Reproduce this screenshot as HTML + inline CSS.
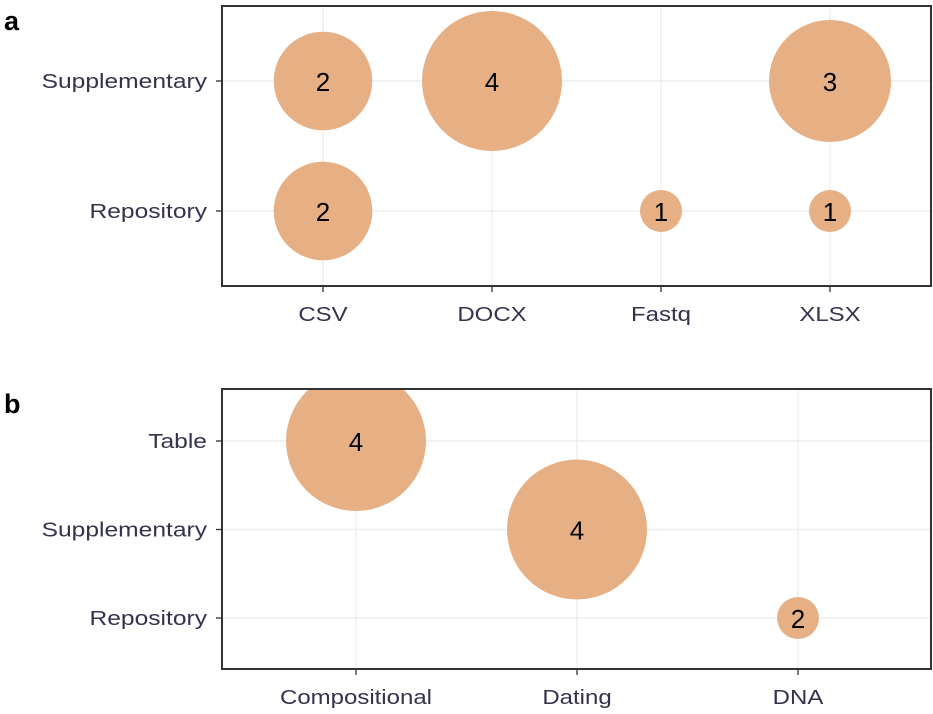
<!DOCTYPE html>
<html><head><meta charset="utf-8"><style>
body{margin:0;background:#fff;}
svg{display:block;font-family:"Liberation Sans",Arial,sans-serif;}
</style></head><body>
<svg id="chart" width="933" height="714"></svg>
<script>
const aCategories = ["CSV","DOCX","Fastq","XLSX"];
const aRows = ["Repository","Supplementary"];
const aX = ["CSV","DOCX","XLSX","CSV","Fastq","XLSX"];
const aY = ["Supplementary","Supplementary","Supplementary","Repository","Repository","Repository"];
const aValues = [2,4,3,2,1,1];
const bCategories = ["Compositional","Dating","DNA"];
const bRows = ["Repository","Supplementary","Table"];
const bX = ["Compositional","Dating","DNA"];
const bY = ["Table","Supplementary","Repository"];
const bValues = [4,4,2];

const NS="http://www.w3.org/2000/svg";
const svg=document.getElementById('chart');
function mk(tag,attrs,parent){const e=document.createElementNS(NS,tag);for(const k in attrs)e.setAttribute(k,attrs[k]);(parent||svg).appendChild(e);return e;}

function panel(p){
  const g=mk('g',{});
  
  
  const L=222,R=931,T=p.top,B=p.bottom;
  const xs=v=>p.x0+p.cats.indexOf(v)*p.dx;
  const ys=v=>p.y0-p.rows.indexOf(v)*p.dy;
  const vmin=Math.min(...p.vals),vmax=Math.max(...p.vals);
  const rmin=21,rmax=70;
  const rs=v=>vmax===vmin?rmax:rmin+(rmax-rmin)*Math.sqrt((v-vmin)/(vmax-vmin));
  const lt=mk('text',{x:4,y:p.top+24,'font-size':27,'font-weight':'bold',fill:'#000'},g);
  lt.textContent=p.letter;
  
  
  const clipId='clip'+p.letter;
  const cp=mk('clipPath',{id:clipId},g);mk('rect',{x:L,y:T,width:R-L,height:B-T},cp);
  p.cats.forEach(c=>{
    const gl=mk('line',{x1:xs(c),x2:xs(c),y1:T,y2:B,stroke:'#ebebeb','stroke-width':1.2},g);
    
    
    const tk=mk('line',{x1:xs(c),x2:xs(c),y1:B,y2:B+6,stroke:'#333','stroke-width':1.3},g);
    
    
    const t=mk('text',{transform:'translate('+xs(c)+','+(B+35)+') scale(1.2,1)','font-size':20,fill:'#33334d','text-anchor':'middle'},g);
    t.textContent=c;
    
    
  });
  p.rows.forEach(r=>{
    const gl=mk('line',{x1:L,x2:R,y1:ys(r),y2:ys(r),stroke:'#ebebeb','stroke-width':1.2},g);
    
    
    const tk=mk('line',{x1:L-6,x2:L,y1:ys(r),y2:ys(r),stroke:'#333','stroke-width':1.3},g);
    
    
    const t=mk('text',{transform:'translate(207,'+(ys(r)+7)+') scale(1.23,1)','font-size':20,fill:'#33334d','text-anchor':'end'},g);
    t.textContent=r;
    
    
  });
  const cg=mk('g',{'clip-path':'url(#'+clipId+')'},g);
  p.vals.forEach((v,i)=>{
    const cx=xs(p.xv[i]),cy=ys(p.yv[i]);
    const c=mk('circle',{cx:cx,cy:cy,r:rs(v),fill:'#e6b084'},cg);
    
    
    const t=mk('text',{x:cx,y:cy+10,'font-size':26,fill:'#000','text-anchor':'middle'},cg);
    t.textContent=v;
    
    
  });
  const fr=mk('rect',{x:L,y:T,width:R-L,height:B-T,fill:'none',stroke:'#333','stroke-width':2},g);
  
  
}
panel({letter:'a',top:6,bottom:286,cats:aCategories,rows:aRows,xv:aX,yv:aY,vals:aValues,x0:323,dx:169,y0:211,dy:130});
panel({letter:'b',top:389,bottom:669,cats:bCategories,rows:bRows,xv:bX,yv:bY,vals:bValues,x0:356,dx:221,y0:618,dy:88.5});
</script>
</body></html>
